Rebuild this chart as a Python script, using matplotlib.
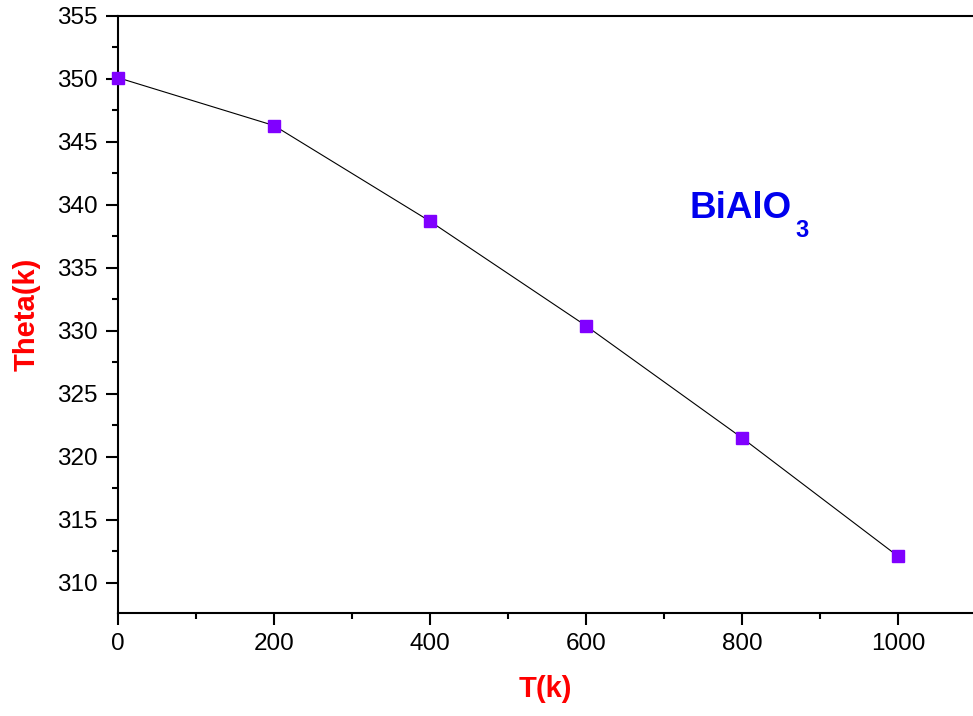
import matplotlib
matplotlib.use('Agg')
import matplotlib.pyplot as plt
from matplotlib.ticker import MultipleLocator

# data
temps = [0, 200, 400, 600, 800, 1000]
theta = [350.1, 346.3, 338.7, 330.4, 321.5, 312.1]

plt.rcParams['font.family'] = ['Liberation Sans', 'DejaVu Sans']

fig = plt.figure(figsize=(9.73, 7.16), dpi=100)
ax = fig.add_axes([118 / 973, 1 - 613 / 716, (973 - 118) / 973, (613 - 16) / 716])

ax.plot(temps, theta, color='black', lw=0.8, marker='s', ms=8.5,
        mfc='#8000ff', mec='#8000ff', clip_on=False, zorder=3)

ax.set_xlim(0, 1096)
ax.set_ylim(307.6, 355)
ax.xaxis.set_major_locator(MultipleLocator(200))
ax.xaxis.set_minor_locator(MultipleLocator(100))
ax.yaxis.set_major_locator(MultipleLocator(5))
ax.yaxis.set_minor_locator(MultipleLocator(2.5))

ax.tick_params(which='both', direction='out', width=1.5, labelsize=17.5)
ax.tick_params(which='major', length=8.6, pad=6)
ax.tick_params(which='minor', length=4.3)
for s in ['left', 'bottom', 'top']:
    ax.spines[s].set_linewidth(1.5)
ax.spines['right'].set_visible(False)

ax.set_xlabel('T(k)', color='red', fontsize=21, fontweight='bold', labelpad=14)
ax.set_ylabel('Theta(k)', color='red', fontsize=21, fontweight='bold', labelpad=12)

# compound label, subscript drawn separately (Origin style)
ax.text(0.669, 0.6616, 'BiAlO', transform=ax.transAxes, color='#0000ee',
        fontsize=26.5, fontweight='bold', ha='left', va='baseline')
ax.text(0.792, 0.6298, '3', transform=ax.transAxes, color='#0000ee',
        fontsize=17, fontweight='bold', ha='left', va='baseline')

fig.savefig('out.png', dpi=100)
